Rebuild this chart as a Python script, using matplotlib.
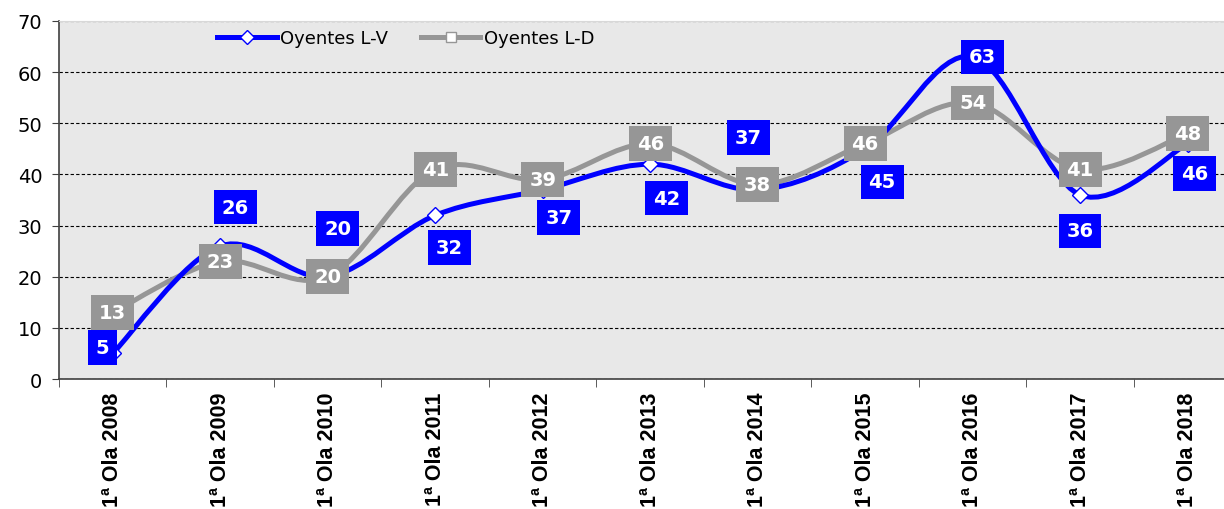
import numpy as np
import matplotlib
matplotlib.use('Agg')
from matplotlib import pyplot as plt
from matplotlib.path import Path
from matplotlib.patches import PathPatch
from matplotlib.lines import Line2D

# data
categories = ['1ª Ola 2008', '1ª Ola 2009', '1ª Ola 2010', '1ª Ola 2011', '1ª Ola 2012',
              '1ª Ola 2013', '1ª Ola 2014', '1ª Ola 2015', '1ª Ola 2016', '1ª Ola 2017',
              '1ª Ola 2018']
oyentes_lv = [5, 26, 20, 32, 37, 42, 37, 45, 63, 36, 46]
oyentes_ld = [13, 23, 20, 41, 39, 46, 38, 46, 54, 41, 48]

# label offsets (pixels) for the blue series, as placed in the original
lv_off = [(-10, 6), (15, 39), (10, 48), (14, -32), (16, -28), (16, -34),
          (-9, 52), (17, -33), (10, 0), (0, -36), (7, -30)]

BLUE = '#0000FF'
GRAY = '#969696'


def smooth_path(xs, ys):
    # excel-like smoothed line: bezier segments through every point
    pts = np.column_stack([xs, ys]).astype(float)
    n = len(pts)
    verts = [pts[0]]
    codes = [Path.MOVETO]
    for i in range(n - 1):
        p0 = pts[i - 1] if i > 0 else pts[i]
        p1 = pts[i]
        p2 = pts[i + 1]
        p3 = pts[i + 2] if i + 2 < n else pts[i + 1]
        c1 = p1 + (p2 - p0) / 6.0
        c2 = p2 - (p3 - p1) / 6.0
        verts += [c1, c2, p2]
        codes += [Path.CURVE4] * 3
    return Path(verts, codes)


fig = plt.figure(figsize=(12.24, 5.1), dpi=100)
ax = fig.add_axes([0.0482, 0.2549, 0.966, 0.702])
ax.set_facecolor('#E8E8E8')

x = np.arange(len(categories))

ax.add_patch(PathPatch(smooth_path(x, oyentes_ld), fill=False, edgecolor=GRAY,
                       lw=3.6, capstyle='round', joinstyle='round', zorder=3))
ax.add_patch(PathPatch(smooth_path(x, oyentes_lv), fill=False, edgecolor=BLUE,
                       lw=3.6, capstyle='round', joinstyle='round', zorder=4))
ax.plot(x, oyentes_ld, ls='none', marker='s', ms=8, mfc='white', mec=GRAY, mew=1, zorder=5)
ax.plot(x, oyentes_lv, ls='none', marker='D', ms=8, mfc='white', mec=BLUE, mew=1, zorder=6)

px = 0.72  # points per pixel at dpi 100
for i, v in enumerate(oyentes_ld):
    ax.annotate(str(v), (x[i], v), xytext=(0, 0), textcoords='offset points',
                ha='center', va='center', color='white', fontsize=14, fontweight='bold',
                family='DejaVu Sans',
                bbox=dict(boxstyle='square,pad=0.4', fc=GRAY, ec='none'), zorder=7)
for i, v in enumerate(oyentes_lv):
    dx, dy = lv_off[i]
    ax.annotate(str(v), (x[i], v), xytext=(dx * px, dy * px), textcoords='offset points',
                ha='center', va='center', color='white', fontsize=14, fontweight='bold',
                family='DejaVu Sans',
                bbox=dict(boxstyle='square,pad=0.4', fc=BLUE, ec='none'), zorder=8)

ax.set_xlim(-0.5, len(categories) - 0.5)
ax.set_ylim(0, 70)
ax.set_yticks(range(0, 71, 10))
ax.grid(axis='y', color='black', ls=(0, (3, 2)), lw=0.8)
ax.set_axisbelow(True)

ax.set_xticks(x)
ax.set_xticklabels(categories, rotation=90, fontsize=15.5, fontweight='bold',
                   family='Liberation Sans')
ax.set_xticks(np.arange(-0.5, len(categories), 1), minor=True)
ax.tick_params(axis='x', which='major', length=0, pad=9)
ax.tick_params(axis='x', which='minor', length=6, color='#404040')
ax.tick_params(axis='y', labelsize=14, length=5, pad=7, color='#404040')

for s in ['left', 'bottom']:
    ax.spines[s].set_color('#404040')
    ax.spines[s].set_linewidth(1.2)
ax.spines['right'].set_visible(False)
ax.spines['top'].set_color('#D8D8D8')

handles = [Line2D([], [], color=BLUE, lw=3.6, marker='D', ms=7, mfc='white', mec=BLUE),
           Line2D([], [], color=GRAY, lw=3.6, marker='s', ms=7, mfc='white', mec=GRAY)]
ax.legend(handles, ['Oyentes L-V', 'Oyentes L-D'], loc='upper left',
          bbox_to_anchor=(0.12, 1.022), ncol=2, frameon=False, fontsize=13,
          handlelength=3.3, handletextpad=0.2, columnspacing=1.8)

fig.savefig('out.png', dpi=100)
